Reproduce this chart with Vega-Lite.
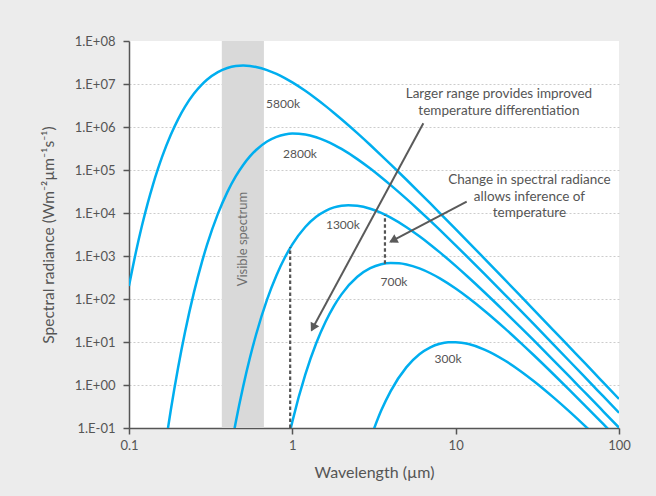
{
  "$schema": "https://vega.github.io/schema/vega-lite/v6.json",
  "width": 490,
  "height": 387,
  "autosize": {"type": "none"},
  "padding": {"left": 129, "top": 41, "right": 37, "bottom": 68},
  "background": "#ececec",
  "config": {
    "view": {"stroke": null, "fill": "#ffffff"},
    "font": "Lato",
    "text": {"font": "Lato", "color": "#555555"}
  },
  "datasets": {
    "curves": [
      {"T": "5800k", "lambda": 0.1, "B": 201},
      {"T": "5800k", "lambda": 0.11, "B": 1188},
      {"T": "5800k", "lambda": 0.12, "B": 5036},
      {"T": "5800k", "lambda": 0.13, "B": 16560},
      {"T": "5800k", "lambda": 0.14, "B": 44680},
      {"T": "5800k", "lambda": 0.15, "B": 103000},
      {"T": "5800k", "lambda": 0.16, "B": 210000},
      {"T": "5800k", "lambda": 0.18, "B": 651600},
      {"T": "5800k", "lambda": 0.2, "B": 1529000},
      {"T": "5800k", "lambda": 0.22, "B": 2929000},
      {"T": "5800k", "lambda": 0.25, "B": 5984000},
      {"T": "5800k", "lambda": 0.28, "B": 9824000},
      {"T": "5800k", "lambda": 0.3, "B": 12570000},
      {"T": "5800k", "lambda": 0.35, "B": 18950000},
      {"T": "5800k", "lambda": 0.4, "B": 23600000},
      {"T": "5800k", "lambda": 0.45, "B": 26150000},
      {"T": "5800k", "lambda": 0.5, "B": 26870000},
      {"T": "5800k", "lambda": 0.55, "B": 26300000},
      {"T": "5800k", "lambda": 0.6, "B": 24900000},
      {"T": "5800k", "lambda": 0.7, "B": 21090000},
      {"T": "5800k", "lambda": 0.8, "B": 17120000},
      {"T": "5800k", "lambda": 0.9, "B": 13690000},
      {"T": "5800k", "lambda": 1, "B": 10880000},
      {"T": "5800k", "lambda": 1.2, "B": 6934000},
      {"T": "5800k", "lambda": 1.4, "B": 4538000},
      {"T": "5800k", "lambda": 1.6, "B": 3060000},
      {"T": "5800k", "lambda": 1.8, "B": 2123000},
      {"T": "5800k", "lambda": 2, "B": 1515000},
      {"T": "5800k", "lambda": 2.5, "B": 719000},
      {"T": "5800k", "lambda": 3, "B": 381200},
      {"T": "5800k", "lambda": 3.5, "B": 219700},
      {"T": "5800k", "lambda": 4, "B": 135300},
      {"T": "5800k", "lambda": 5, "B": 59320},
      {"T": "5800k", "lambda": 6, "B": 29890},
      {"T": "5800k", "lambda": 7, "B": 16660},
      {"T": "5800k", "lambda": 8, "B": 9995},
      {"T": "5800k", "lambda": 10, "B": 4230},
      {"T": "5800k", "lambda": 12, "B": 2084},
      {"T": "5800k", "lambda": 15, "B": 872.1},
      {"T": "5800k", "lambda": 20, "B": 281.9},
      {"T": "5800k", "lambda": 25, "B": 116.9},
      {"T": "5800k", "lambda": 30, "B": 56.88},
      {"T": "5800k", "lambda": 40, "B": 18.17},
      {"T": "5800k", "lambda": 50, "B": 7.485},
      {"T": "5800k", "lambda": 60, "B": 3.627},
      {"T": "5800k", "lambda": 70, "B": 1.965},
      {"T": "5800k", "lambda": 80, "B": 1.154},
      {"T": "5800k", "lambda": 100, "B": 0.474},

      {"T": "2800k", "lambda": 0.17, "B": 0.0626},
      {"T": "2800k", "lambda": 0.18, "B": 0.252},
      {"T": "2800k", "lambda": 0.2, "B": 2.586},
      {"T": "2800k", "lambda": 0.22, "B": 16.6},
      {"T": "2800k", "lambda": 0.25, "B": 144.5},
      {"T": "2800k", "lambda": 0.28, "B": 740.6},
      {"T": "2800k", "lambda": 0.3, "B": 1784},
      {"T": "2800k", "lambda": 0.35, "B": 9530},
      {"T": "2800k", "lambda": 0.4, "B": 30640},
      {"T": "2800k", "lambda": 0.45, "B": 70900},
      {"T": "2800k", "lambda": 0.5, "B": 131100},
      {"T": "2800k", "lambda": 0.55, "B": 207200},
      {"T": "2800k", "lambda": 0.6, "B": 292100},
      {"T": "2800k", "lambda": 0.7, "B": 459800},
      {"T": "2800k", "lambda": 0.8, "B": 590900},
      {"T": "2800k", "lambda": 0.9, "B": 670900},
      {"T": "2800k", "lambda": 1, "B": 702700},
      {"T": "2800k", "lambda": 1.2, "B": 670300},
      {"T": "2800k", "lambda": 1.4, "B": 578900},
      {"T": "2800k", "lambda": 1.6, "B": 477100},
      {"T": "2800k", "lambda": 1.8, "B": 384900},
      {"T": "2800k", "lambda": 2, "B": 308800},
      {"T": "2800k", "lambda": 2.5, "B": 179200},
      {"T": "2800k", "lambda": 3, "B": 107900},
      {"T": "2800k", "lambda": 3.5, "B": 67830},
      {"T": "2800k", "lambda": 4, "B": 44490},
      {"T": "2800k", "lambda": 5, "B": 21230},
      {"T": "2800k", "lambda": 6, "B": 11300},
      {"T": "2800k", "lambda": 7, "B": 6539},
      {"T": "2800k", "lambda": 8, "B": 4034},
      {"T": "2800k", "lambda": 10, "B": 1773},
      {"T": "2800k", "lambda": 12, "B": 895.1},
      {"T": "2800k", "lambda": 15, "B": 383.7},
      {"T": "2800k", "lambda": 20, "B": 127.1},
      {"T": "2800k", "lambda": 25, "B": 53.47},
      {"T": "2800k", "lambda": 30, "B": 26.24},
      {"T": "2800k", "lambda": 40, "B": 8.479},
      {"T": "2800k", "lambda": 50, "B": 3.52},
      {"T": "2800k", "lambda": 60, "B": 1.712},
      {"T": "2800k", "lambda": 70, "B": 0.93},
      {"T": "2800k", "lambda": 80, "B": 0.548},
      {"T": "2800k", "lambda": 100, "B": 0.226},

      {"T": "1300k", "lambda": 0.4, "B": 0.0112},
      {"T": "1300k", "lambda": 0.45, "B": 0.1344},
      {"T": "1300k", "lambda": 0.5, "B": 0.928},
      {"T": "1300k", "lambda": 0.55, "B": 4.311},
      {"T": "1300k", "lambda": 0.6, "B": 14.92},
      {"T": "1300k", "lambda": 0.7, "B": 96.34},
      {"T": "1300k", "lambda": 0.8, "B": 356.5},
      {"T": "1300k", "lambda": 0.9, "B": 921.3},
      {"T": "1300k", "lambda": 1, "B": 1859},
      {"T": "1300k", "lambda": 1.2, "B": 4725},
      {"T": "1300k", "lambda": 1.4, "B": 8173},
      {"T": "1300k", "lambda": 1.6, "B": 11260},
      {"T": "1300k", "lambda": 1.8, "B": 13490},
      {"T": "1300k", "lambda": 2, "B": 14760},
      {"T": "1300k", "lambda": 2.2, "B": 15200},
      {"T": "1300k", "lambda": 2.5, "B": 14750},
      {"T": "1300k", "lambda": 3, "B": 12560},
      {"T": "1300k", "lambda": 3.5, "B": 10020},
      {"T": "1300k", "lambda": 4, "B": 7798},
      {"T": "1300k", "lambda": 5, "B": 4677},
      {"T": "1300k", "lambda": 6, "B": 2873},
      {"T": "1300k", "lambda": 7, "B": 1836},
      {"T": "1300k", "lambda": 8, "B": 1216},
      {"T": "1300k", "lambda": 10, "B": 588.4},
      {"T": "1300k", "lambda": 12, "B": 315.8},
      {"T": "1300k", "lambda": 15, "B": 143.7},
      {"T": "1300k", "lambda": 20, "B": 50.37},
      {"T": "1300k", "lambda": 25, "B": 21.91},
      {"T": "1300k", "lambda": 30, "B": 10.99},
      {"T": "1300k", "lambda": 40, "B": 3.647},
      {"T": "1300k", "lambda": 50, "B": 1.537},
      {"T": "1300k", "lambda": 60, "B": 0.755},
      {"T": "1300k", "lambda": 70, "B": 0.414},
      {"T": "1300k", "lambda": 80, "B": 0.245},
      {"T": "1300k", "lambda": 100, "B": 0.1018},

      {"T": "700k", "lambda": 0.9, "B": 0.0243},
      {"T": "700k", "lambda": 1, "B": 0.141},
      {"T": "700k", "lambda": 1.2, "B": 1.741},
      {"T": "700k", "lambda": 1.4, "B": 9.314},
      {"T": "700k", "lambda": 1.6, "B": 29.94},
      {"T": "700k", "lambda": 1.8, "B": 69.2},
      {"T": "700k", "lambda": 2, "B": 128.1},
      {"T": "700k", "lambda": 2.5, "B": 328.1},
      {"T": "700k", "lambda": 3, "B": 519.3},
      {"T": "700k", "lambda": 3.5, "B": 640},
      {"T": "700k", "lambda": 4, "B": 686},
      {"T": "700k", "lambda": 4.5, "B": 677},
      {"T": "700k", "lambda": 5, "B": 635},
      {"T": "700k", "lambda": 6, "B": 514.6},
      {"T": "700k", "lambda": 7, "B": 397},
      {"T": "700k", "lambda": 8, "B": 301.4},
      {"T": "700k", "lambda": 10, "B": 174.9},
      {"T": "700k", "lambda": 12, "B": 105.3},
      {"T": "700k", "lambda": 15, "B": 53.41},
      {"T": "700k", "lambda": 20, "B": 20.75},
      {"T": "700k", "lambda": 25, "B": 9.568},
      {"T": "700k", "lambda": 30, "B": 4.983},
      {"T": "700k", "lambda": 40, "B": 1.731},
      {"T": "700k", "lambda": 50, "B": 0.749},
      {"T": "700k", "lambda": 60, "B": 0.375},
      {"T": "700k", "lambda": 70, "B": 0.208},
      {"T": "700k", "lambda": 80, "B": 0.124},
      {"T": "700k", "lambda": 100, "B": 0.0522},

      {"T": "300k", "lambda": 3, "B": 0.0559},
      {"T": "300k", "lambda": 3.5, "B": 0.254},
      {"T": "300k", "lambda": 4, "B": 0.722},
      {"T": "300k", "lambda": 5, "B": 2.601},
      {"T": "300k", "lambda": 6, "B": 5.17},
      {"T": "300k", "lambda": 7, "B": 7.506},
      {"T": "300k", "lambda": 8, "B": 9.078},
      {"T": "300k", "lambda": 9, "B": 9.833},
      {"T": "300k", "lambda": 10, "B": 9.922},
      {"T": "300k", "lambda": 12, "B": 8.958},
      {"T": "300k", "lambda": 15, "B": 6.683},
      {"T": "300k", "lambda": 20, "B": 3.724},
      {"T": "300k", "lambda": 25, "B": 2.1},
      {"T": "300k", "lambda": 30, "B": 1.242},
      {"T": "300k", "lambda": 40, "B": 0.502},
      {"T": "300k", "lambda": 50, "B": 0.237},
      {"T": "300k", "lambda": 60, "B": 0.125},
      {"T": "300k", "lambda": 70, "B": 0.072}
    ],
    "curveLabels": [
      {"label": "5800k", "lambda": 0.877, "B": 3430000},
      {"label": "2800k", "lambda": 1.114, "B": 236000},
      {"label": "1300k", "lambda": 2.04, "B": 5260},
      {"label": "700k", "lambda": 4.19, "B": 248},
      {"label": "300k", "lambda": 8.98, "B": 4.03}
    ]
  },
  "encoding": {
    "x": {
      "field": "lambda",
      "type": "quantitative",
      "scale": {"type": "log", "domain": [0.1, 100], "nice": false},
      "axis": {
        "title": "Wavelength (µm)",
        "values": [0.1, 1, 10, 100],
        "format": "~g",
        "grid": false,
        "labelFlush": false,
        "domainColor": "#555555",
        "domainWidth": 1.5,
        "tickColor": "#555555",
        "tickWidth": 1.5,
        "tickSize": 6,
        "labelFont": "Lato",
        "labelFontSize": 13,
        "labelColor": "#555555",
        "labelPadding": 5,
        "titleFont": "Lato",
        "titleFontSize": 16,
        "titleFontWeight": "normal",
        "titleColor": "#555555",
        "titlePadding": 12
      }
    },
    "y": {
      "field": "B",
      "type": "quantitative",
      "scale": {"type": "log", "domain": [0.1, 100000000], "nice": false},
      "axis": {
        "title": "Spectral radiance (Wm⁻²µm⁻¹s⁻¹)",
        "values": [0.1, 1, 10, 100, 1000, 10000, 100000, 1000000, 10000000, 100000000],
        "labelExpr": "'1.E' + (datum.value < 1 ? '-' : '+') + (abs(round(log(datum.value) / LN10)) < 10 ? '0' : '') + abs(round(log(datum.value) / LN10))",
        "labelFlush": false,
        "grid": true,
        "gridColor": "#cccccc",
        "gridDash": [2, 2],
        "gridWidth": 1,
        "gridOpacity": {"condition": {"test": "datum.value >= 100000000", "value": 0}, "value": 1},
        "domainColor": "#555555",
        "domainWidth": 1.5,
        "tickColor": "#555555",
        "tickWidth": 1.5,
        "tickSize": 6,
        "labelFont": "Lato",
        "labelFontSize": 13,
        "labelColor": "#555555",
        "labelPadding": 8,
        "titleFont": "Lato",
        "titleFontSize": 15.5,
        "titleFontWeight": "normal",
        "titleColor": "#555555",
        "titlePadding": 18
      }
    }
  },
  "layer": [
    {
      "data": {"values": [{"lambda": 0.37, "lambda2": 0.67, "B": 100000000, "B2": 0.1}]},
      "mark": {"type": "rect", "color": "#d9d9d9", "opacity": 1},
      "encoding": {
        "x2": {"field": "lambda2"},
        "y2": {"field": "B2"}
      }
    },
    {
      "data": {"values": [{"lambda": 0.499, "B": 2480, "label": "Visible spectrum"}]},
      "mark": {"type": "text", "angle": 270, "fontSize": 13, "align": "center", "baseline": "middle", "color": "#707070"},
      "encoding": {"text": {"field": "label"}}
    },
    {
      "data": {"name": "curves"},
      "mark": {"type": "line", "clip": true, "interpolate": "monotone", "color": "#00aeef", "strokeWidth": 2.5},
      "encoding": {"detail": {"field": "T"}}
    },
    {
      "data": {"values": [
        {"lambda": 0.97, "B": 0.1, "B2": 1600},
        {"lambda": 3.69, "B": 660, "B2": 9000}
      ]},
      "mark": {"type": "rule", "color": "#555555", "strokeWidth": 2.2, "strokeDash": [3.5, 2.5]},
      "encoding": {"y2": {"field": "B2"}}
    },
    {
      "data": {"values": [
        {"lambda": 6.34, "B": 1220000, "lambda2": 1.314, "B2": 19.0},
        {"lambda": 11.68, "B": 18300, "lambda2": 4.0, "B2": 2150}
      ]},
      "mark": {"type": "rule", "color": "#5a5a5a", "strokeWidth": 2},
      "encoding": {"x2": {"field": "lambda2"}, "y2": {"field": "B2"}}
    },
    {
      "data": {"values": [{"lambda": 1.35, "B": 22.9}]},
      "mark": {"type": "point", "shape": "triangle", "filled": true, "size": 95, "angle": 208.4, "color": "#5a5a5a", "opacity": 1}
    },
    {
      "data": {"values": [{"lambda": 4.2, "B": 2380}]},
      "mark": {"type": "point", "shape": "triangle", "filled": true, "size": 95, "angle": 242.2, "color": "#5a5a5a", "opacity": 1}
    },
    {
      "data": {"name": "curveLabels"},
      "mark": {"type": "text", "fontSize": 12, "align": "center", "baseline": "middle", "color": "#555555"},
      "encoding": {"text": {"field": "label"}}
    },
    {
      "data": {"values": [
        {"lambda": 18.4, "B": 8300000, "note": "Larger range provides improved\ntemperature differentiation"},
        {"lambda": 28.3, "B": 83000, "note": "Change in spectral radiance\nallows inference of\ntemperature"}
      ]},
      "mark": {"type": "text", "fontSize": 13.5, "align": "center", "baseline": "top", "lineBreak": "\n", "lineHeight": 16.5, "color": "#555555"},
      "encoding": {"text": {"field": "note"}}
    }
  ]
}
